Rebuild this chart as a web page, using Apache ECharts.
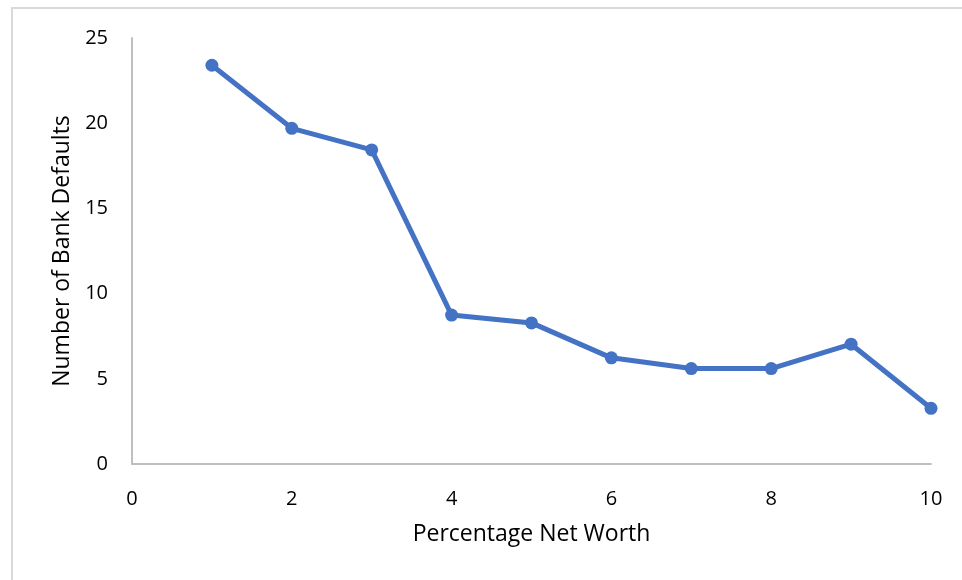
<!DOCTYPE html>
<html>
<head>
<meta charset="utf-8">
<style>
  html, body { margin: 0; padding: 0; background: #fff; }
  #chart { width: 962px; height: 580px; }
</style>
<script src="https://cdn.jsdelivr.net/npm/echarts@6/dist/echarts.min.js"></script>
</head>
<body>
<div id="chart"></div>
<script>
// Percentage net worth vs. number of bank defaults
const netWorth = [1, 2, 3, 4, 5, 6, 7, 8, 9, 10];
const defaults = [23.4, 19.7, 18.43, 8.74, 8.28, 6.23, 5.6, 5.6, 7.03, 3.27];
const xTicks = [0, 2, 4, 6, 8, 10];
const yTicks = [0, 5, 10, 15, 20, 25];

const FONT = '"Open Sans", "Noto Sans", sans-serif';
const chart = echarts.init(document.getElementById('chart'), null, { renderer: 'canvas' });

chart.setOption({
  backgroundColor: '#ffffff',
  animation: false,
  graphic: [{
    type: 'rect',
    shape: { x: 12, y: 8, width: 980, height: 600 },
    style: { fill: 'none', stroke: '#d9d9d9', lineWidth: 2 },
    silent: true
  }],
  grid: { left: 132, right: 31, top: 38, bottom: 116 },
  xAxis: {
    type: 'value',
    min: xTicks[0],
    max: xTicks[xTicks.length - 1],
    interval: 2,
    name: 'Percentage Net Worth',
    nameLocation: 'middle',
    nameGap: 59,
    nameTextStyle: { fontFamily: FONT, fontSize: 23, color: '#000' },
    axisLine: { show: true, lineStyle: { color: '#bfbfbf', width: 2 } },
    axisTick: { show: false },
    splitLine: { show: false },
    axisLabel: { fontFamily: FONT, fontSize: 20, color: '#000', margin: 25 }
  },
  yAxis: {
    type: 'value',
    min: yTicks[0],
    max: yTicks[yTicks.length - 1],
    interval: 5,
    name: 'Number of Bank Defaults',
    nameLocation: 'middle',
    nameGap: 56,
    nameTextStyle: { fontFamily: FONT, fontSize: 23, color: '#000' },
    axisLine: { show: true, lineStyle: { color: '#bfbfbf', width: 2 } },
    axisTick: { show: false },
    splitLine: { show: false },
    axisLabel: { fontFamily: FONT, fontSize: 20, color: '#000', margin: 24 }
  },
  series: [{
    type: 'line',
    data: netWorth.map((x, i) => [x, defaults[i]]),
    symbol: 'circle',
    symbolSize: 13,
    lineStyle: { color: '#4472c4', width: 5 },
    itemStyle: { color: '#4472c4' },
    clip: false
  }]
});
</script>
</body>
</html>
